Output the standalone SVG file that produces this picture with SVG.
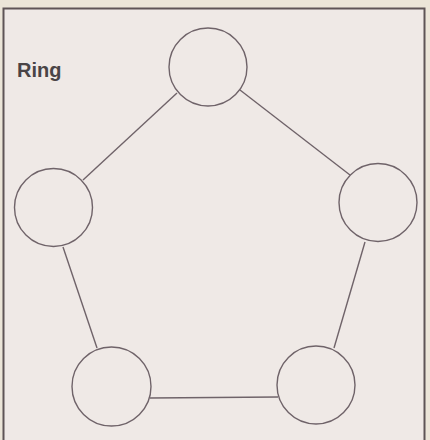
<svg xmlns="http://www.w3.org/2000/svg" width="430" height="440" viewBox="0 0 430 440">
<style>
.node{fill:#efe9e6;stroke:#6f6369;stroke-width:1.4}
.edge{stroke:#6f6369;stroke-width:1.4;fill:none}
.label{font-family:"Liberation Sans",Arial,sans-serif;font-size:20px;font-weight:bold;fill:#4a4446}
</style>
<rect x="0" y="0" width="430" height="440" fill="#ebe5d8"/>
<rect x="3.5" y="8.5" width="421" height="440" fill="#efe9e6" stroke="#5e5456" stroke-width="2"/>
<text class="label" x="17" y="77">Ring</text>
<g id="connectors">
<line class="edge" x1="177" y1="93" x2="83" y2="180"/>
<line class="edge" x1="240" y1="90" x2="350" y2="175"/>
<line class="edge" x1="63" y1="247" x2="97" y2="348"/>
<line class="edge" x1="150" y1="398" x2="278" y2="397"/>
<line class="edge" x1="365" y1="242" x2="334" y2="348"/>
</g>
<g id="node-top"><circle class="node" cx="208" cy="67" r="39"/></g>
<g id="node-left"><circle class="node" cx="53.5" cy="207.5" r="39"/></g>
<g id="node-right"><circle class="node" cx="378" cy="202.5" r="39"/></g>
<g id="node-bottom-left"><circle class="node" cx="111.5" cy="386.5" r="39.5"/></g>
<g id="node-bottom-right"><circle class="node" cx="316" cy="385" r="39"/></g>
</svg>
